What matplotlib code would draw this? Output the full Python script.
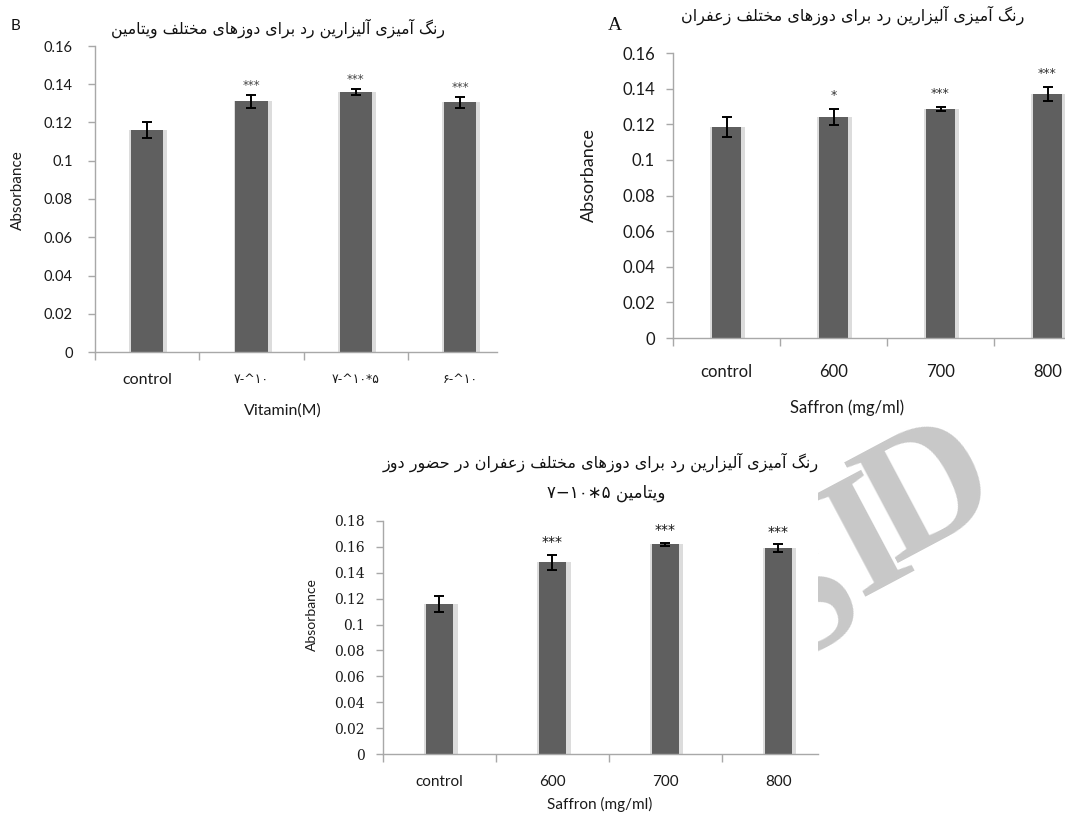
import matplotlib
matplotlib.use('Agg')
import matplotlib.pyplot as plt
import numpy as np
from matplotlib.patches import Rectangle
from matplotlib.ticker import FuncFormatter, FixedLocator, MultipleLocator

# ---------------- data ----------------
b_categories = ["control",
                "\u06F7-^\u06F1\u06F0",
                "\u06F7-^\u06F1\u06F0*\u06F5",
                "\u06F6-^\u06F1\u06F0"]
b_values = [0.116, 0.131, 0.136, 0.1305]
b_errors = [0.004, 0.0035, 0.0017, 0.003]
b_stars = ["", "***", "***", "***"]

a_categories = ["control", "600", "700", "800"]
a_values = [0.1185, 0.124, 0.1285, 0.137]
a_errors = [0.0057, 0.0045, 0.0012, 0.0038]
a_stars = ["", "*", "***", "***"]

c_categories = ["control", "600", "700", "800"]
c_values = [0.116, 0.148, 0.162, 0.159]
c_errors = [0.006, 0.006, 0.0012, 0.003]
c_stars = ["", "***", "***", "***"]

title_b = "رنگ آمیزی آلیزارین رد برای دوزهای مختلف ویتامین"
title_a = "رنگ آمیزی آلیزارین رد برای دوزهای مختلف زعفران"
title_c1 = "رنگ آمیزی آلیزارین رد برای دوزهای مختلف زعفران در حضور دوز"
title_c2_word = "ویتامین"
title_c2_num = "\u06F7\u2212\u06F1\u06F0\u2217\u06F5"   # displayed left-to-right

# -------------- simple Arabic shaping (presentation forms) --------------
FORMS = {
    'ا': ('\uFE8D', '\uFE8E', None, None),
    'آ': ('\uFE81', '\uFE82', None, None),
    'ب': ('\uFE8F', '\uFE90', '\uFE91', '\uFE92'),
    'ت': ('\uFE95', '\uFE96', '\uFE97', '\uFE98'),
    'ح': ('\uFEA1', '\uFEA2', '\uFEA3', '\uFEA4'),
    'خ': ('\uFEA5', '\uFEA6', '\uFEA7', '\uFEA8'),
    'د': ('\uFEA9', '\uFEAA', None, None),
    'ر': ('\uFEAD', '\uFEAE', None, None),
    'ز': ('\uFEAF', '\uFEB0', None, None),
    'ض': ('\uFEBD', '\uFEBE', '\uFEBF', '\uFEC0'),
    'ع': ('\uFEC9', '\uFECA', '\uFECB', '\uFECC'),
    'ف': ('\uFED1', '\uFED2', '\uFED3', '\uFED4'),
    'ل': ('\uFEDD', '\uFEDE', '\uFEDF', '\uFEE0'),
    'م': ('\uFEE1', '\uFEE2', '\uFEE3', '\uFEE4'),
    'ن': ('\uFEE5', '\uFEE6', '\uFEE7', '\uFEE8'),
    'ه': ('\uFEE9', '\uFEEA', '\uFEEB', '\uFEEC'),
    'و': ('\uFEED', '\uFEEE', None, None),
    'ی': ('\uFBFC', '\uFBFD', '\uFBFE', '\uFBFF'),
    'گ': ('\uFB92', '\uFB93', '\uFB94', '\uFB95'),
}


def shape_rtl(s):
    out = []
    for i, c in enumerate(s):
        f = FORMS.get(c)
        if f is None:
            out.append(c)
            continue
        prev = s[i - 1] if i > 0 else ''
        nxt = s[i + 1] if i + 1 < len(s) else ''
        jp = prev in FORMS and FORMS[prev][2] is not None
        jn = f[2] is not None and nxt in FORMS
        if jp and jn:
            out.append(f[3])
        elif jp:
            out.append(f[1])
        elif jn:
            out.append(f[2])
        else:
            out.append(f[0])
    return ''.join(reversed(out))


# ---------------- figure ----------------
W, H = 1065, 816
fig = plt.figure(figsize=(W / 100, H / 100), dpi=100)
fig.patch.set_facecolor('white')

AR = ['DejaVu Sans']
SANS = ['Lato', 'DejaVu Sans']

# watermark letters (behind the charts, visible only in lower-right area)
clip = Rectangle((818 / W, 0), 1, (H - 417) / H, transform=fig.transFigure,
                 facecolor='none', edgecolor='none')
for letter, (bx, by) in zip("SID", [(827, 640), (889, 581), (950, 534)]):
    t = fig.text(bx / W, 1 - by / H, letter, rotation=28, rotation_mode='anchor',
                 ha='center', va='baseline', fontsize=125, fontweight='bold',
                 family='Liberation Serif', color='#c8c8c8', zorder=0)
    t.set_clip_path(clip)


def px_axes(l, t, r, b):
    return fig.add_axes([l / W, 1 - b / H, (r - l) / W, (b - t) / H])


def draw_panel(ax, cats, vals, errs, stars, ymax, xmax, bar_w, st):
    x = np.arange(len(cats))
    ax.set_facecolor('none')
    ax.bar(x + 0.012, vals, width=bar_w + 0.055, color='#dcdcdc', zorder=1)
    ax.bar(x, vals, width=bar_w, color='#5f5f5f', zorder=2)
    ax.errorbar(x, vals, yerr=errs, fmt='none', ecolor='black',
                elinewidth=1.4, capsize=st['capsize'], capthick=1.4, zorder=3)
    for xi, v, e, s in zip(x, vals, errs, stars):
        if s:
            ax.annotate(s, (xi, v + e), xytext=(0, st['star_off']),
                        textcoords='offset points', ha='center', va='bottom',
                        fontsize=st['star_size'], color=st['star_color'],
                        family='DejaVu Sans')
    ax.set_xlim(-0.5, xmax)
    ax.set_ylim(0, ymax)
    ax.yaxis.set_major_locator(MultipleLocator(0.02))
    ax.yaxis.set_major_formatter(FuncFormatter(lambda v, _: f"{v:g}"))
    for sp in ['top', 'right']:
        ax.spines[sp].set_visible(False)
    for sp in ['left', 'bottom']:
        ax.spines[sp].set_color('#a8a8a8')
        ax.spines[sp].set_linewidth(1.0)
    ax.tick_params(axis='y', direction='out', length=5, width=1.0,
                   color='#a8a8a8', pad=st['ypad'],
                   labelsize=st['ysize'], labelcolor='#1a1a1a')
    for lab in ax.get_yticklabels():
        lab.set_family(st['yfont'])
    ax.xaxis.set_major_locator(FixedLocator(np.arange(-0.5, len(cats), 1.0)))
    ax.xaxis.set_major_formatter(FuncFormatter(lambda v, _: ""))
    ax.set_xticks(x, cats, minor=True)
    ax.tick_params(axis='x', which='major', direction='out', length=6,
                   width=1.0, color='#a8a8a8')
    ax.tick_params(axis='x', which='minor', length=0, pad=st['xpad'],
                   labelsize=st['xsize'], labelcolor='#1a1a1a')
    for lab in ax.get_xticklabels(minor=True):
        lab.set_family(SANS)


# ---------------- panel B (top-left) ----------------
axB = px_axes(95, 46, 497, 352)
draw_panel(axB, b_categories, b_values, b_errors, b_stars, 0.16, 3.355, 0.31,
           dict(capsize=3.5, star_off=2, star_size=8.5, star_color='#444444',
                ypad=11, ysize=10.5, yfont=SANS, xpad=15, xsize=11.5))
for lab in axB.get_xticklabels(minor=True)[1:]:
    lab.set_fontsize(9)
    lab.set_family(['DejaVu Sans'])
axB.set_ylabel("Absorbance", fontsize=11, family=SANS, color='#1a1a1a')
axB.yaxis.set_label_coords(-0.175, 0.53)
axB.set_xlabel("Vitamin(M)", fontsize=11.5, family=SANS, color='#1a1a1a', va='center')
axB.xaxis.set_label_coords(0.468, -0.19)

# ---------------- panel A (top-right) ----------------
axA = px_axes(673, 53, 673 + 428, 338)
draw_panel(axA, a_categories, a_values, a_errors, a_stars, 0.16, 3.5, 0.27,
           dict(capsize=3.5, star_off=5, star_size=9, star_color='#333333',
                ypad=8, ysize=12, yfont=SANS, xpad=19, xsize=12))
axA.set_ylabel("Absorbance", fontsize=13, family=SANS, color='#1a1a1a')
axA.yaxis.set_label_coords(-0.178, 0.57)
axA.set_xlabel("Saffron (mg/ml)", fontsize=12, family=SANS, color='#1a1a1a', va='center')
axA.xaxis.set_label_coords(0.407, -0.245)

# ---------------- panel C (bottom) ----------------
axC = px_axes(383, 521, 818, 754)
draw_panel(axC, c_categories, c_values, c_errors, c_stars, 0.18, 3.35, 0.24,
           dict(capsize=3.5, star_off=4, star_size=10, star_color='#111111',
                ypad=8, ysize=10, yfont=['DejaVu Serif'], xpad=15, xsize=11))
axC.set_ylabel("Absorbance", fontsize=10,
               family=['Liberation Sans Narrow', 'Lato', 'DejaVu Sans'], color='#1a1a1a')
axC.yaxis.set_label_coords(-0.149, 0.60)
axC.set_xlabel("Saffron (mg/ml)", fontsize=11, family=SANS, color='#1a1a1a', va='center')
axC.xaxis.set_label_coords(0.499, -0.218)

# ---------------- titles and panel letters ----------------
fig.text(278 / W, 1 - 28 / H, shape_rtl(title_b), ha='center', va='center',
         fontsize=11.3, family=AR, color='#111111')
fig.text(15 / W, 1 - 26 / H, "B", ha='center', va='center', fontsize=11,
         family=SANS, color='#111111')
fig.text(853 / W, 1 - 15 / H, shape_rtl(title_a), ha='center', va='center',
         fontsize=11.5, family=AR, color='#111111')
fig.text(615 / W, 1 - 25 / H, "A", ha='center', va='center', fontsize=14,
         family=['Liberation Serif'], color='#111111')
fig.text(601 / W, 1 - 462 / H, shape_rtl(title_c1), ha='center', va='center',
         fontsize=11.5, family=AR, color='#111111')
fig.text(606 / W, 1 - 493 / H, title_c2_num + " " + shape_rtl(title_c2_word),
         ha='center', va='center', fontsize=12, family=AR, color='#111111')

fig.savefig('out.png', dpi=100, facecolor='white')
